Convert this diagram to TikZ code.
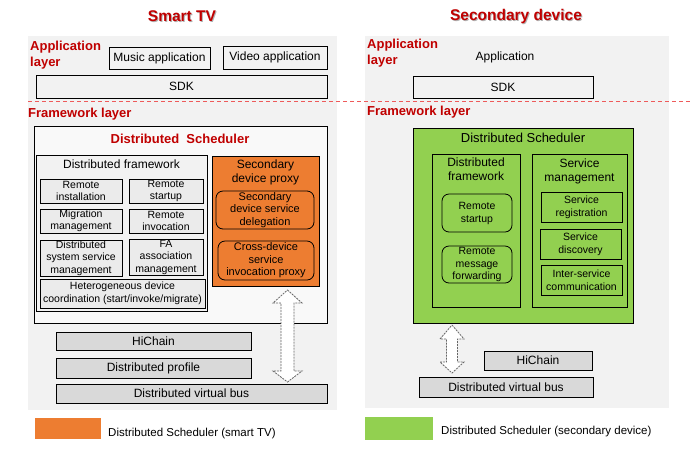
\documentclass[tikz,border=0pt]{standalone}
\usepackage{fontspec}
\setmainfont{Liberation Sans}
\usetikzlibrary{positioning}

\definecolor{tvred}{HTML}{C00000}
\definecolor{proxyorange}{HTML}{ED7D31}
\definecolor{schedgreen}{HTML}{92D050}
\definecolor{panelgray}{HTML}{F2F2F2}
\definecolor{schedwhite}{HTML}{F9F9F9}
\definecolor{cellgray}{HTML}{EBEBEB}
\definecolor{busgray}{HTML}{D9D9D9}
\definecolor{cutred}{HTML}{EE5A5A}

\tikzset{
  every node/.style={inner sep=0pt},
  headline/.style={font=\fontsize{15.5}{18}\selectfont\bfseries, text=tvred},
  headshadow/.style={font=\fontsize{15.5}{18}\selectfont\bfseries, text=black!30},
  layername/.style={font=\fontsize{13}{16}\selectfont\bfseries, text=tvred, align=left, anchor=north west},
  frame/.style={draw, line width=.8pt},
  appbox/.style={frame, font=\fontsize{12}{14}\selectfont},
  cell/.style={frame, fill=cellgray, align=center, font=\fontsize{10.5}{12.5}\selectfont},
  roundcell/.style={frame, rounded corners=7pt, align=center, font=\fontsize{11}{12.5}\selectfont},
  greencell/.style={frame, align=center, font=\fontsize{10.5}{13}\selectfont},
  boxtitle/.style={align=center, font=\fontsize{12}{14}\selectfont},
  bar/.style={frame, fill=busgray, font=\fontsize{12}{14}\selectfont},
  linkarrow/.style={draw=black!60, fill=white, line width=.8pt, dash pattern=on 2pt off 1pt},
  legendtext/.style={anchor=west, font=\fontsize{11.5}{14}\selectfont}
}

\begin{document}
\begin{tikzpicture}[x=1pt,y=-1pt]
  \useasboundingbox (0,0) rectangle (692,448);

  % grey panels
  \fill[panelgray] (28,36) rectangle (337,410);
  \fill[panelgray] (365,36) rectangle (669,408);

  % titles
  \node[headshadow] at (183,17.5) {Smart TV};
  \node[headline] (tvhead) at (182,16) {Smart TV};
  \node[headshadow] at (517,17.5) {Secondary device};
  \node[headline] (devhead) at (516,16) {Secondary device};

  % layer boundary
  \coordinate (cutW) at (28,101);
  \coordinate (cutE) at (692,101);
  \draw[cutred, line width=1pt, dash pattern=on 4pt off 3pt] (cutW) -- (cutE);

  % ---- smart TV: application layer
  \node[layername] (tvapp) at (30,41) {Application\\layer};
  \node[appbox, minimum width=101, minimum height=22] (music) at (159.5,58) {Music application};
  \node[appbox, minimum width=104, minimum height=23] (video) at (275,57.5) {Video application};
  \node[appbox, minimum width=291, minimum height=23] (tvsdk) at (181.5,86.5) {SDK};

  % ---- smart TV: framework layer
  \node[layername] (tvfw) at (28,108) {Framework layer};
  \node[frame, fill=schedwhite, minimum width=293, minimum height=197] (tvsched) at (180.5,224.5) {};
  \node[font=\fontsize{13}{15}\selectfont\bfseries, text=tvred] at (180,139) {Distributed~~Scheduler};

  \node[frame, fill=panelgray, minimum width=171, minimum height=156] (tvdf) at (121.5,233) {};
  \node[boxtitle, below=5pt of tvdf.north] {Distributed framework};
  \node[cell, minimum width=82, minimum height=24] (rinst) at (81,191) {Remote\\installation};
  \node[cell, minimum width=74, minimum height=24] (rstart) at (166,191) {Remote\\startup};
  \node[cell, minimum width=82, minimum height=24] (migr) at (81,221) {Migration\\management};
  \node[cell, minimum width=74, minimum height=24] (rinv) at (166,221) {Remote\\invocation};
  \node[cell, minimum width=82, minimum height=36] (dssm) at (81,258) {Distributed\\system service\\management};
  \node[cell, minimum width=74, minimum height=36] (faam) at (166,257) {FA\\association\\management};
  \node[cell, minimum width=165, minimum height=29] (hetero) at (122.5,293.5) {Heterogeneous device\\coordination (start/invoke/migrate)};

  \node[frame, fill=proxyorange, minimum width=107, minimum height=130] (proxy) at (265.5,221) {};
  \node[boxtitle, font=\fontsize{12}{13.5}\selectfont, below=4pt of proxy.north] {Secondary\\device proxy};
  \node[roundcell, minimum width=98, minimum height=38] (deleg) at (265,210) {Secondary\\device service\\delegation};
  \node[roundcell, minimum width=96, minimum height=39] (xproxy) at (266,260.5) {Cross-device\\service\\invocation proxy};

  \node[bar, minimum width=195, minimum height=18] (tvhichain) at (153.5,341) {HiChain};
  \node[bar, minimum width=195, minimum height=20] (profile) at (153.5,368) {Distributed profile};
  \node[bar, minimum width=271, minimum height=19] (tvbus) at (191.5,393.5) {Distributed virtual bus};

  % proxy <-> bus
  \coordinate (tvlink) at (287.5,290);
  \draw[linkarrow] (tvlink) -- ++(14.5,13) -- ++(-8,0) -- ++(0,68) -- ++(8,0) -- ++(-14.5,11)
    -- ++(-14.5,-11) -- ++(8,0) -- ++(0,-68) -- ++(-8,0) -- cycle;

  % ---- secondary device: application layer
  \node[layername] (devapp) at (367,39) {Application\\layer};
  \node[font=\fontsize{12}{14}\selectfont] (devappname) at (505,57) {Application};
  \node[appbox, minimum width=180, minimum height=22] (devsdk) at (503,87) {SDK};

  % ---- secondary device: framework layer
  \node[layername] (devfw) at (367,106) {Framework layer};
  \node[frame, fill=schedgreen, minimum width=220, minimum height=195] (devsched) at (523,225.5) {};
  \node[font=\fontsize{13}{15}\selectfont, below=5pt of devsched.north] {Distributed Scheduler};

  \node[frame, minimum width=88, minimum height=153] (devdf) at (476,230.5) {};
  \node[boxtitle, font=\fontsize{12}{14}\selectfont, below=4pt of devdf.north] {Distributed\\framework};
  \node[roundcell, font=\fontsize{10.5}{13}\selectfont, minimum width=70, minimum height=38] (devstart) at (477,213) {Remote\\startup};
  \node[roundcell, font=\fontsize{10.5}{12.5}\selectfont, minimum width=70, minimum height=37] (msgfwd) at (477,264.5) {Remote\\message\\forwarding};

  \node[frame, minimum width=95, minimum height=153] (svcmgmt) at (579.5,230.5) {};
  \node[boxtitle, font=\fontsize{12}{14}\selectfont, below=5pt of svcmgmt.north] {Service\\management};
  \node[greencell, minimum width=81, minimum height=30] (svcreg) at (581.5,207) {Service\\registration};
  \node[greencell, minimum width=81, minimum height=30] (svcdisc) at (580.5,244) {Service\\discovery};
  \node[greencell, minimum width=81, minimum height=30] (intercom) at (581.5,280) {Inter-service\\communication};

  \node[bar, minimum width=108, minimum height=19] (devhichain) at (538,360.5) {HiChain};
  \node[bar, minimum width=174, minimum height=20] (devbus) at (506,387) {Distributed virtual bus};

  % scheduler <-> bus
  \coordinate (devlink) at (452,325);
  \draw[linkarrow] (devlink) -- ++(12,14) -- ++(-6.5,0) -- ++(0,23) -- ++(6.5,0) -- ++(-12,11)
    -- ++(-12,-11) -- ++(6.5,0) -- ++(0,-23) -- ++(-6.5,0) -- cycle;

  % legend
  \node[fill=proxyorange, minimum width=66, minimum height=21] (keytv) at (68,428.5) {};
  \node[legendtext] (keytvtext) at (108,434) {Distributed Scheduler (smart TV)};
  \node[fill=schedgreen, minimum width=68, minimum height=23] (keydev) at (399,428.5) {};
  \node[legendtext] (keydevtext) at (441,432) {Distributed Scheduler (secondary device)};
\end{tikzpicture}
\end{document}
